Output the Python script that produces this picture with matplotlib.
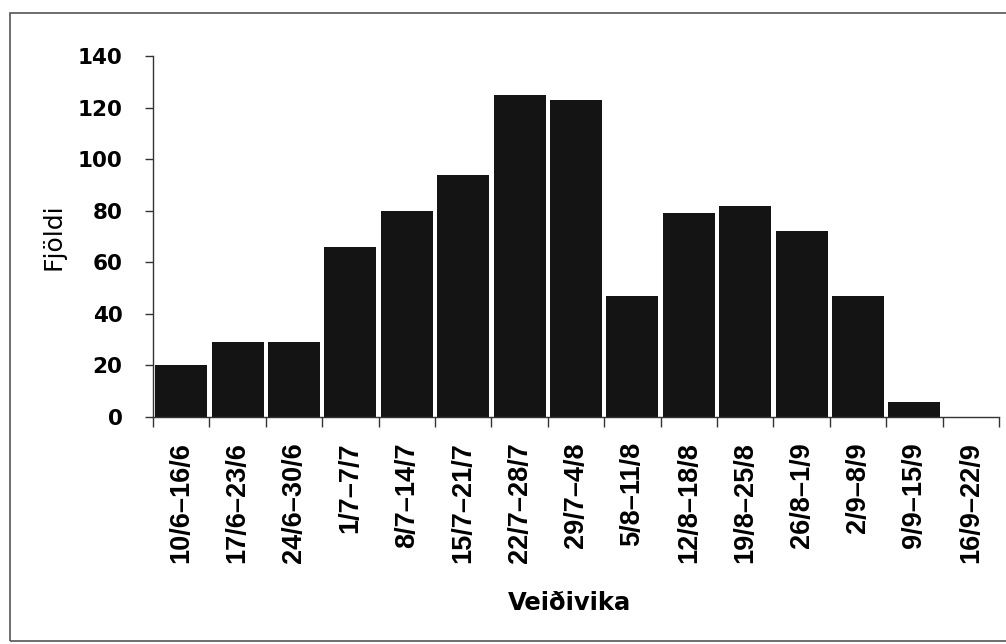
import matplotlib
matplotlib.use("Agg")
import matplotlib.pyplot as plt
from matplotlib.patches import Rectangle
import numpy as np

weeks = ["10/6–16/6", "17/6–23/6", "24/6–30/6", "1/7–7/7", "8/7–14/7",
         "15/7–21/7", "22/7–28/7", "29/7–4/8", "5/8–11/8", "12/8–18/8",
         "19/8–25/8", "26/8–1/9", "2/9–8/9", "9/9–15/9", "16/9–22/9"]
counts = [20, 29, 29, 66, 80, 94, 125, 123, 47, 79, 82, 72, 47, 6, 0]
yticks = [0, 20, 40, 60, 80, 100, 120, 140]

W, H = 1006, 644
fig = plt.figure(figsize=(W / 100, H / 100), dpi=100)
fig.patch.set_facecolor("white")

# outer frame
fig.patches.append(Rectangle((10 / W, 3 / H), (W + 5 - 10) / W, (641 - 13) / H,
                             transform=fig.transFigure, fill=False,
                             edgecolor="#555555", linewidth=1.2))

ax = fig.add_axes([153 / W, (H - 417) / H, 846 / W, 361 / H])
x = np.arange(len(weeks))
ax.bar(x, counts, width=0.92, color="#141414", edgecolor="none")

ax.set_xlim(-0.5, len(weeks) - 0.5)
ax.set_ylim(0, 140)
ax.spines["top"].set_visible(False)
ax.spines["right"].set_visible(False)
for s in ("left", "bottom"):
    ax.spines[s].set_color("#333333")
    ax.spines[s].set_linewidth(1.0)

ax.set_yticks(yticks)
ax.set_yticklabels([str(v) for v in yticks], fontsize=15.5, fontweight="bold",
                   family="DejaVu Sans")
ax.tick_params(axis="y", direction="out", length=6, width=1, color="#333333", pad=16)

ax.set_xticks(x)
ax.set_xticklabels(weeks, rotation=90, fontsize=19.5, fontweight="bold",
                   family="Liberation Sans", va="top", ha="center")
ax.tick_params(axis="x", which="major", length=0, pad=18)
ax.set_xticks(np.arange(-0.5, len(weeks), 1.0), minor=True)
ax.tick_params(axis="x", which="minor", direction="out", length=7, width=1,
               color="#333333")

fig.text(53 / W, 1 - 237 / H, "Fjöldi", rotation=90, fontsize=18,
         family="DejaVu Sans", ha="center", va="center")
fig.text(570 / W, 1 - 603 / H, "Veiðivika", fontsize=17.5, fontweight="bold",
         family="DejaVu Sans", ha="center", va="center")

fig.savefig("out.png", dpi=100)
